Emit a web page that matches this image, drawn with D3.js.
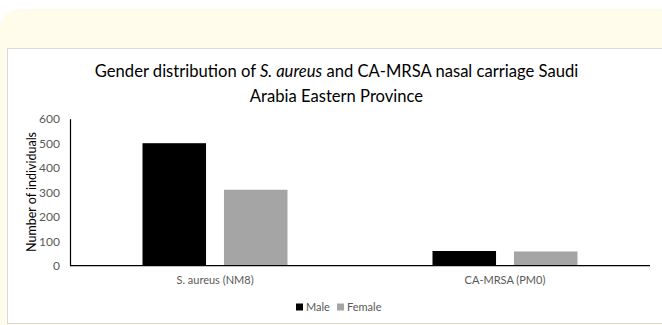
<!DOCTYPE html>
<html><head><meta charset="utf-8">
<script src="https://cdn.jsdelivr.net/npm/d3@7"></script>
<style>html,body{margin:0;padding:0;background:#fff;}svg{display:block;}</style>
</head><body>
<svg id="c" width="662" height="325"></svg>
<script>
const categories = ["S. aureus (NM8)", "CA-MRSA (PM0)"];
const seriesNames = ["Male", "Female"];
const maleValues = [500, 60];
const femaleValues = [310, 58];
const yTicks = [0, 100, 200, 300, 400, 500, 600];
const colors = {Male: "#000000", Female: "#a5a5a5"};

const svg = d3.select("#c");
const font = "Lato, 'Open Sans', sans-serif";

// background frame
svg.append("rect").attr("x", 0).attr("y", 9).attr("width", 690).attr("height", 340)
  .attr("rx", 20).attr("fill", "#fffcec");
svg.append("rect").attr("x", 7.5).attr("y", 48.5).attr("width", 700).attr("height", 275)
  .attr("fill", "#fff").attr("stroke", "#d9d9d9").attr("stroke-width", 1);

const x0 = d3.scaleBand().domain(categories).range([70, 650]).paddingInner(0.5).paddingOuter(0.25);
const x1 = d3.scaleBand().domain(seriesNames).range([0, x0.bandwidth()]).paddingInner(0.22);
const y = d3.scaleLinear().domain([0, 600]).range([265.7, 118.7]);

const data = categories.map((c, i) => ({cat: c, vals: [{s: "Male", v: maleValues[i]}, {s: "Female", v: femaleValues[i]}]}));

const g = svg.append("g");
g.selectAll("g.grp").data(data).join("g").attr("class", "grp")
  .attr("transform", d => `translate(${x0(d.cat)},0)`)
  .selectAll("rect").data(d => d.vals).join("rect")
  .attr("x", d => x1(d.s)).attr("width", x1.bandwidth())
  .attr("y", d => y(d.v)).attr("height", d => y(0) - y(d.v))
  .attr("fill", d => colors[d.s]);

// y axis
const ya = svg.append("g").attr("transform", "translate(70,0)")
  .call(d3.axisLeft(y).tickValues(yTicks).tickSize(0).tickPadding(10));
ya.select(".domain").attr("stroke", "#000").attr("stroke-width", 1.2);
ya.selectAll("text").attr("font-family", font).attr("font-size", 12).attr("fill", "#595959");

// x axis
const xa = svg.append("g").attr("transform", `translate(0,${y(0)})`)
  .call(d3.axisBottom(x0).tickSize(0).tickPadding(11));
xa.select(".domain").attr("stroke", "#000").attr("stroke-width", 1.2).attr("d", "M70,0H650");
xa.selectAll("text").attr("font-family", font).attr("font-size", 11).attr("fill", "#595959");

// y title
svg.append("text").attr("transform", "translate(36,192) rotate(-90)")
  .attr("text-anchor", "middle").attr("font-family", font).attr("font-size", 12.5).attr("fill", "#000")
  .text("Number of individuals");

// title
const t = svg.append("text").attr("text-anchor", "middle").attr("font-family", font)
  .attr("font-size", 16.6).attr("fill", "#000");
const l1 = t.append("tspan").attr("x", 336.5).attr("y", 77);
l1.append("tspan").text("Gender distribution of ");
l1.append("tspan").attr("font-style", "italic").text("S. aureus");
l1.append("tspan").text(" and CA-MRSA nasal carriage Saudi");
t.append("tspan").attr("x", 336.5).attr("y", 102).text("Arabia Eastern Province");

// legend
const leg = svg.append("g").attr("transform", "translate(296,307)");
const items = leg.selectAll("g").data(seriesNames).join("g")
  .attr("transform", (d, i) => `translate(${i * 41},0)`);
items.append("rect").attr("x", 0).attr("y", -3.5).attr("width", 7).attr("height", 7).attr("fill", d => colors[d]);
items.append("text").attr("x", 10).attr("y", 4).attr("font-family", font).attr("font-size", 11)
  .attr("fill", "#595959").text(d => d);
</script>
</body></html>
